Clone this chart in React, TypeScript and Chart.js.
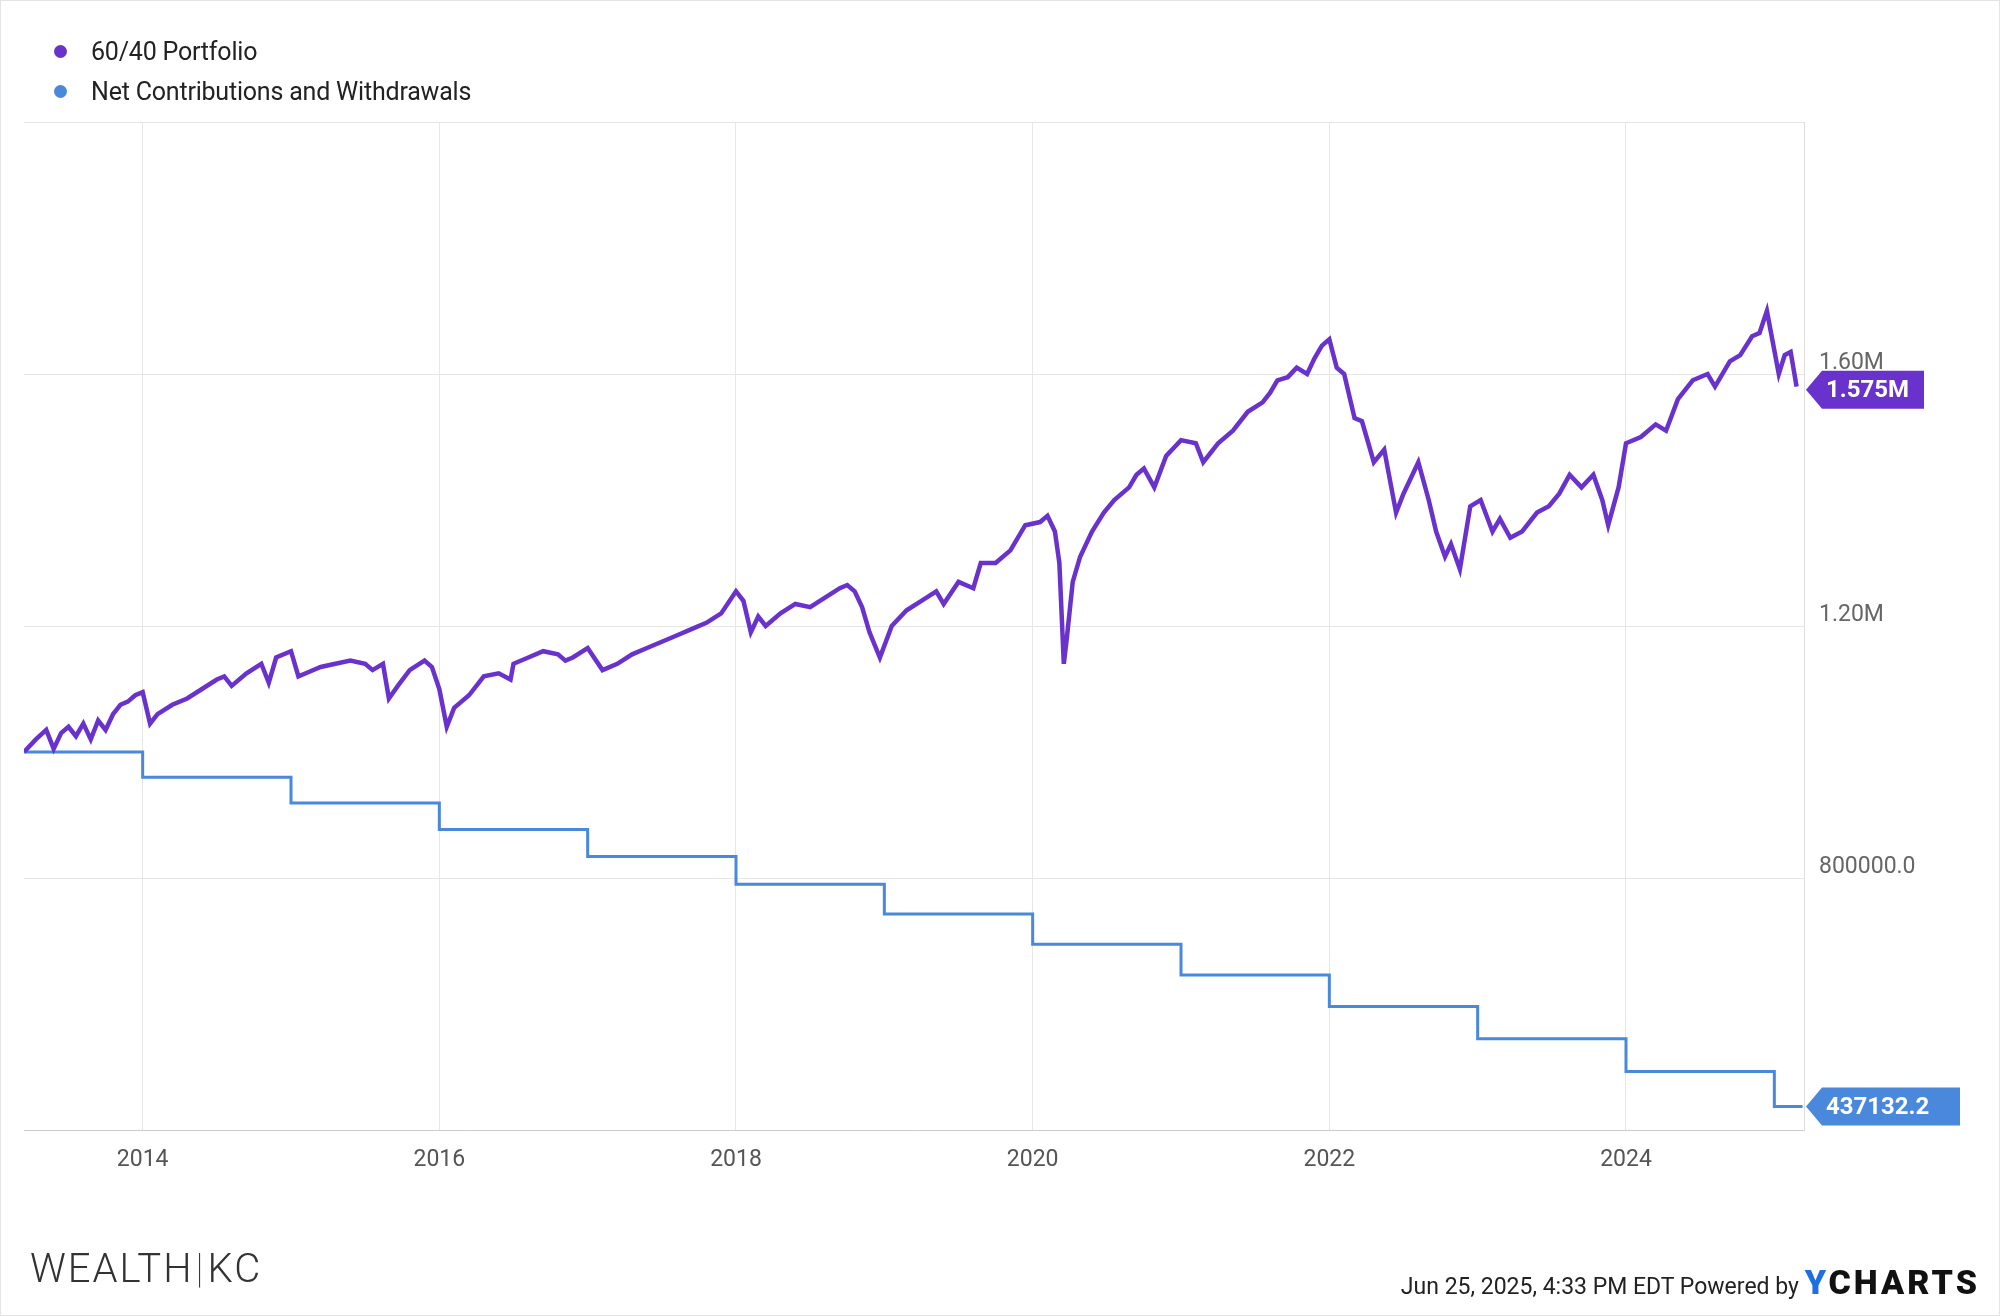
import React, { useEffect, useRef } from "react";
import { Chart, registerables } from "chart.js";
Chart.register(...registerables);

const portfolioDates = [2013.2,2013.28,2013.35,2013.4,2013.45,2013.5,2013.55,2013.6,2013.65,2013.7,2013.75,2013.8,2013.85,2013.9,2013.95,2014.0,2014.05,2014.1,2014.2,2014.3,2014.4,2014.5,2014.55,2014.6,2014.7,2014.8,2014.85,2014.9,2015.0,2015.05,2015.1,2015.2,2015.3,2015.4,2015.5,2015.55,2015.62,2015.66,2015.72,2015.8,2015.9,2015.95,2016.0,2016.05,2016.1,2016.2,2016.3,2016.4,2016.48,2016.5,2016.6,2016.7,2016.8,2016.85,2016.9,2017.0,2017.1,2017.2,2017.3,2017.4,2017.5,2017.6,2017.7,2017.8,2017.9,2018.0,2018.05,2018.1,2018.15,2018.2,2018.3,2018.4,2018.5,2018.6,2018.7,2018.75,2018.8,2018.85,2018.9,2018.97,2019.05,2019.15,2019.25,2019.35,2019.4,2019.5,2019.6,2019.65,2019.75,2019.85,2019.95,2020.05,2020.1,2020.15,2020.18,2020.21,2020.23,2020.27,2020.32,2020.4,2020.48,2020.55,2020.65,2020.7,2020.75,2020.82,2020.9,2021.0,2021.1,2021.15,2021.25,2021.35,2021.45,2021.55,2021.6,2021.65,2021.72,2021.78,2021.85,2021.9,2021.95,2022.0,2022.05,2022.1,2022.17,2022.22,2022.3,2022.37,2022.45,2022.5,2022.6,2022.67,2022.72,2022.78,2022.82,2022.88,2022.95,2023.02,2023.1,2023.15,2023.22,2023.3,2023.4,2023.48,2023.55,2023.62,2023.7,2023.78,2023.84,2023.88,2023.95,2024.0,2024.1,2024.2,2024.27,2024.35,2024.45,2024.55,2024.6,2024.7,2024.77,2024.85,2024.9,2024.95,2024.99,2025.03,2025.07,2025.11,2025.15,2025.19];
const portfolioValues = [1000,1020,1035,1005,1030,1040,1025,1045,1020,1050,1035,1060,1075,1080,1090,1095,1045,1060,1075,1085,1100,1115,1120,1105,1125,1140,1110,1150,1160,1120,1125,1135,1140,1145,1140,1130,1140,1085,1105,1130,1145,1135,1100,1040,1070,1090,1120,1125,1115,1140,1150,1160,1155,1145,1150,1165,1130,1140,1155,1165,1175,1185,1195,1205,1220,1255,1240,1190,1215,1200,1220,1235,1230,1245,1260,1265,1255,1230,1190,1150,1200,1225,1240,1255,1235,1270,1260,1300,1300,1320,1360,1365,1375,1350,1300,1140,1180,1270,1310,1350,1380,1400,1420,1440,1450,1420,1470,1495,1490,1460,1490,1510,1540,1555,1570,1590,1595,1610,1600,1625,1645,1655,1610,1600,1530,1525,1460,1480,1380,1410,1460,1400,1350,1310,1330,1290,1390,1400,1350,1370,1340,1350,1380,1390,1410,1440,1420,1440,1400,1360,1420,1490,1500,1520,1510,1560,1590,1600,1580,1620,1630,1660,1665,1700,1650,1600,1630,1635,1580];
const flowDates = [2013.2,2014.0,2015.0,2016.0,2017.0,2018.0,2019.0,2020.0,2021.0,2022.0,2023.0,2024.0,2025.0,2025.19];
const flowValues = [1000000,960000,919000,877000,834000,790000,743000,695000,646000,596000,545000,493000,437132.2,437132.2];
const yTickValues = [1600000,1200000,800000,400000];
const yTickLabels = ["1.60M","1.20M","800000.0","400000.0"];
const xTickYears = [2014,2016,2018,2020,2022,2024];

const PURPLE = "#6a32cc";
const BLUE = "#4a88dc";
const F = "Roboto, 'Noto Sans', sans-serif";

export default function App() {
  const ref = useRef<HTMLCanvasElement>(null);
  useEffect(() => {
    const overlay = {
      id: "overlay",
      afterDraw(chart: any) {
        const { ctx, chartArea, scales } = chart;
        const y = scales.y;
        ctx.save();
        ctx.font = `23px ${F}`;
        ctx.fillStyle = "#666";
        ctx.textBaseline = "middle";
        ctx.textAlign = "left";
        yTickValues.forEach((v, i) => {
          ctx.fillText(yTickLabels[i], chartArea.right + 15, y.getPixelForValue(v) - 11);
        });
        const badge = (v: number, txt: string, color: string, w: number) => {
          const py = y.getPixelForValue(v);
          const x0 = chartArea.right + 2;
          const h = 38;
          ctx.fillStyle = color;
          ctx.beginPath();
          ctx.moveTo(x0, py);
          ctx.lineTo(x0 + 16, py - h / 2);
          ctx.lineTo(x0 + w, py - h / 2);
          ctx.lineTo(x0 + w, py + h / 2);
          ctx.lineTo(x0 + 16, py + h / 2);
          ctx.closePath();
          ctx.fill();
          ctx.fillStyle = "#fff";
          ctx.font = `bold 24px ${F}`;
          ctx.fillText(txt, x0 + 20, py + 1);
        };
        badge(1575000, "1.575M", PURPLE, 118);
        badge(437132.2, "437132.2", BLUE, 154);
        ctx.restore();
      },
    };
    const chart = new Chart(ref.current!, {
      type: "line",
      data: {
        datasets: [
          {
            data: flowDates.map((d, i) => ({ x: d, y: flowValues[i] })),
            borderColor: BLUE, borderWidth: 3, pointRadius: 0, stepped: "before", order: 2,
          } as any,
          {
            data: portfolioDates.map((d, i) => ({ x: d, y: portfolioValues[i] * 1000 })),
            borderColor: PURPLE, borderWidth: 4.5, pointRadius: 0, tension: 0, order: 1,
          },
        ],
      },
      options: {
        animation: false, responsive: false,
        layout: { padding: { left: 24, top: 122, right: 0, bottom: 0 } },
        plugins: { legend: { display: false }, tooltip: { enabled: false } },
        scales: {
          x: {
            type: "linear", min: 2013.2, max: 2025.2,
            afterBuildTicks: (s: any) => { s.ticks = xTickYears.map((v) => ({ value: v })); },
            afterFit: (s: any) => { s.height = 186; },
            grid: { color: "#e6e6e6", drawTicks: false },
            border: { color: "#ccc" },
            ticks: { color: "#555", font: { family: F, size: 23 }, padding: 16, callback: (v: any) => String(v) },
          },
          y: {
            position: "right", min: 400000, max: 2000000,
            afterBuildTicks: (s: any) => { s.ticks = [400000, 800000, 1200000, 1600000, 2000000].map((v) => ({ value: v })); },
            afterFit: (s: any) => { s.width = 196; },
            grid: { color: "#e6e6e6", drawTicks: false },
            border: { color: "#ddd" },
            ticks: { display: false },
          },
        },
      },
      plugins: [overlay],
    });
    return () => chart.destroy();
  }, []);
  return (
    <div style={{ position: "absolute", left: 0, top: 0, width: 2000, height: 1316, background: "#fff", fontFamily: F }}>
      <canvas ref={ref} width={2000} height={1316} style={{ position: "absolute", left: 0, top: 0 }} />
      <div style={{ position: "absolute", left: 0, top: 0, width: 1998, height: 1314, border: "1px solid #e4e4e4", pointerEvents: "none" }} />
      {[["60/40 Portfolio", PURPLE, 51], ["Net Contributions and Withdrawals", BLUE, 91]].map(([t, c, y]: any) => (
        <div key={t} style={{ position: "absolute", left: 54, top: y - 16, height: 32, display: "flex", alignItems: "center", fontSize: 25, color: "#222", letterSpacing: -0.2 }}>
          <span style={{ width: 13, height: 13, borderRadius: 7, background: c, marginRight: 24 }} />{t}
        </div>
      ))}
      <div style={{ position: "absolute", left: 30, top: 1245, fontSize: 40, fontWeight: 300, letterSpacing: 2, color: "#333" }}>
        WEALTH<span style={{ fontWeight: 100, margin: "0 2px" }}>|</span>KC
      </div>
      <div style={{ position: "absolute", right: 20, top: 1262, fontSize: 23, color: "#222", display: "flex", alignItems: "baseline" }}>
        Jun 25, 2025, 4:33 PM EDT Powered by&nbsp;
        <span style={{ fontSize: 34, fontWeight: 900, letterSpacing: 3, color: "#111" }}><span style={{ color: "#1f6fe0" }}>Y</span>CHARTS</span>
      </div>
    </div>
  );
}
